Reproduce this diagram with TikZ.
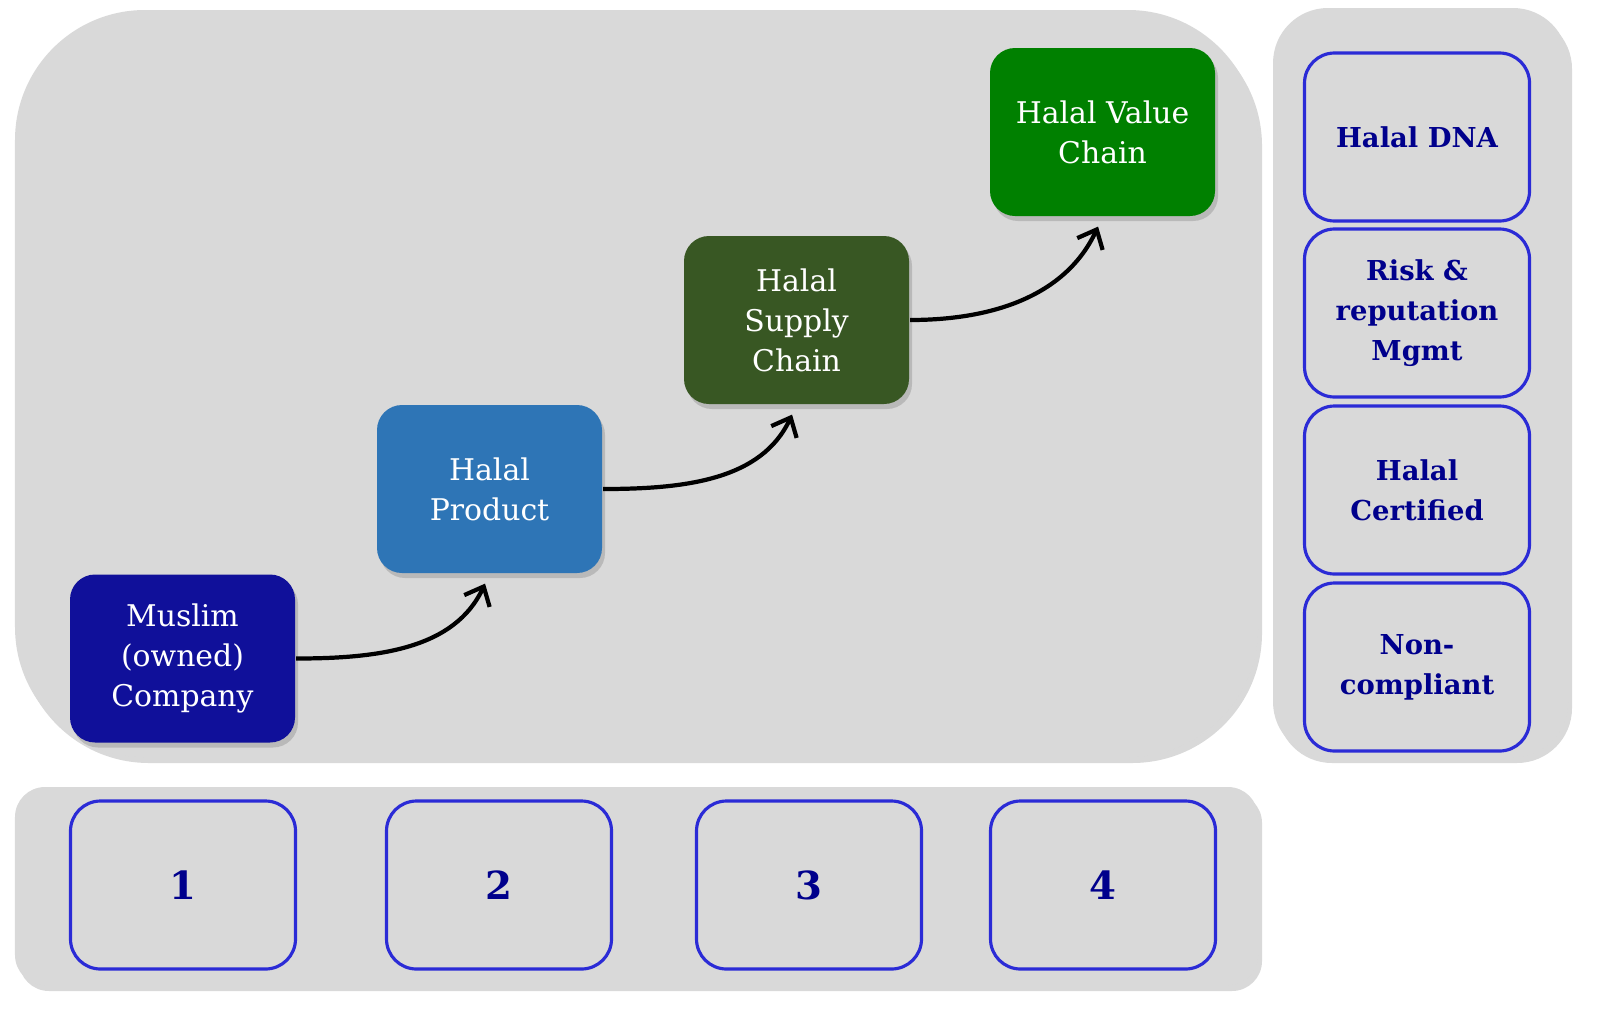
\documentclass[tikz,border=0pt]{standalone}
\usepackage{fontspec}
\setmainfont{DejaVu Serif}
\usetikzlibrary{arrows.meta,positioning,shadows}
\definecolor{panelGray}{HTML}{D9D9D9}
\definecolor{muslimBlue}{HTML}{10109A}
\definecolor{productBlue}{HTML}{2E75B6}
\definecolor{supplyGreen}{HTML}{385723}
\definecolor{valueGreen}{HTML}{008000}
\definecolor{edgeBlue}{HTML}{2B2BD6}
\definecolor{navyText}{HTML}{00008C}
\tikzset{
	panel/.style={fill=panelGray, drop shadow={opacity=0.3, shadow xshift=0.4mm, shadow yshift=-0.6mm}},
	stage/.style={rounded corners=2.5mm, minimum width=2.25cm, minimum height=1.68cm, text=white, align=center,
		font=\fontsize{8.5}{11.4}\selectfont, drop shadow={opacity=0.35, shadow xshift=0.3mm, shadow yshift=-0.5mm}},
	tag/.style={draw=edgeBlue, fill=panelGray, line width=0.9pt, rounded corners=3mm, minimum width=2.25cm,
		minimum height=1.68cm, text=navyText, align=center, font=\bfseries\fontsize{7.8}{11.4}\selectfont},
	link/.style={draw, ->, >={Straight Barb[length=1.6mm, width=2.8mm]}, line width=1.2pt, shorten >=3pt}
}

\begin{document}
\begin{tikzpicture}[semithick]
	\useasboundingbox (0,0) rectangle (16.09,-10.13);
	
	% panels
	\fill[panel, rounded corners=13mm] (0.15,-0.10) rectangle (12.58,-7.57);
	\fill[panel, rounded corners=5.5mm] (12.73,-0.08) rectangle (15.68,-7.57);
	\fill[panel, rounded corners=3mm] (0.15,-7.87) rectangle (12.58,-9.85);
	
	\node[stage, fill=muslimBlue] (muslim) at (1.825,-6.585) {Muslim\\(owned)\\Company};
	\node[stage, fill=productBlue] (product) at (4.895,-4.89) {Halal\\Product};
	\node[stage, fill=supplyGreen] (supply) at (7.965,-3.20) {Halal\\Supply\\Chain};
	\node[stage, fill=valueGreen] (value) at (11.025,-1.32) {Halal Value\\Chain};
	
	\node[tag] (dna) at (14.17,-1.37) {Halal DNA};
	\node[tag] (risk) at (14.17,-3.13) {Risk \&\\reputation\\Mgmt};
	\node[tag] (cert) at (14.17,-4.90) {Halal\\Certified};
	\node[tag] (noncomp) at (14.17,-6.67) {Non-\\compliant};
	
	\node[tag, font=\bfseries\fontsize{11}{13}\selectfont] (s1) at (1.83,-8.85) {1};
	\node[tag, font=\bfseries\fontsize{11}{13}\selectfont] (s2) at (4.99,-8.85) {2};
	\node[tag, font=\bfseries\fontsize{11}{13}\selectfont] (s3) at (8.09,-8.85) {3};
	\node[tag, font=\bfseries\fontsize{11}{13}\selectfont] (s4) at (11.03,-8.85) {4};
	
	\path (muslim.east) edge[link, out=0, in=-115] (product.south);
	\path (product.east) edge[link, out=0, in=-115] (supply.south);
	\path (supply.east) edge[link, out=0, in=-115] (value.south);
\end{tikzpicture}
\end{document}
